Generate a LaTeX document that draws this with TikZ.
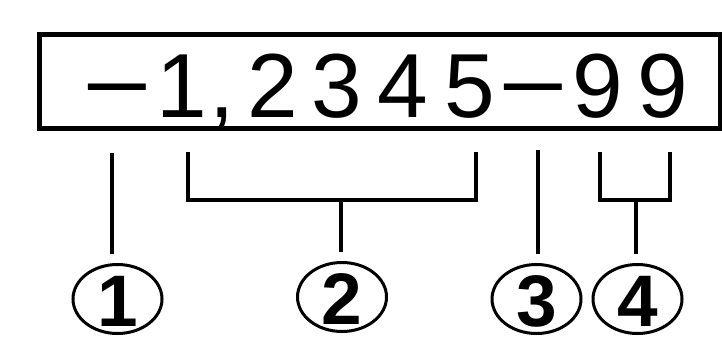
\documentclass[tikz,border=0pt]{standalone}
\usepackage{fontspec}
\setmainfont{Liberation Sans}
\usepackage{graphicx}
\usetikzlibrary{shapes.geometric}
% a minus sign drawn a little wider than the font's own
\newcommand\wideminus{\scalebox{1.31}[1]{−}}
% circled callout digit, lowered a little inside its oval
\newcommand\calloutdigit[1]{\raisebox{-27pt}[0pt][0pt]{#1}}
\begin{document}
\begin{tikzpicture}[x=1pt,y=-1pt,
  frame/.style={draw, line width=4.5pt, inner sep=0pt},
  lead/.style={line width=3.5pt},
  callout/.style={draw, ellipse, line width=3pt, minimum width=89pt,
    minimum height=69pt, inner sep=0pt,
    font=\fontsize{73}{78}\selectfont\bfseries}]
\useasboundingbox (0,0) rectangle (722,337);

% display window with the reading
\node[frame, minimum width=681pt, minimum height=94.2pt] (display) at (380,81.6) {};
\node[anchor=base west, inner sep=0pt, font=\fontsize{91}{100}\selectfont] (value) at (82.2,117)
  {\wideminus\kern4.3pt 1\kern2.8pt,\kern12.5pt 2\kern13.2pt 3\kern15.5pt 4\kern16.3pt 5\kern3.5pt\wideminus\kern4.4pt 9\kern14.4pt 9};

% numbered callouts
\node[callout] (c1) at (117.5,299) {\calloutdigit{1}};
\node[callout] (c2) at (342,297) {\calloutdigit{2}};
\node[callout] (c3) at (536.5,299) {\calloutdigit{3}};
\node[callout] (c4) at (637.5,299) {\calloutdigit{4}};

% leader ends under the display
\coordinate (s1) at (112,153);
\coordinate (b2l) at (188,152);
\coordinate (b2r) at (476,152);
\coordinate (b2m) at (341,200);
\coordinate (s3) at (538,150);
\coordinate (b4l) at (600,152);
\coordinate (b4r) at (670,152);
\coordinate (b4m) at (636,200);

% 1: sign
\draw[lead, shorten >=9pt] (s1) -- (s1 |- c1.north);
% 2: mantissa bracket
\draw[lead] (b2l) -- (b2l |- b2m) -- (b2r |- b2m) -- (b2r);
\draw[lead, shorten >=9pt] (b2m) -- (b2m |- c2.north);
% 3: exponent sign
\draw[lead, shorten >=9pt] (s3) -- (s3 |- c3.north);
% 4: exponent bracket
\draw[lead] (b4l) -- (b4l |- b4m) -- (b4r |- b4m) -- (b4r);
\draw[lead, shorten >=9pt] (b4m) -- (b4m |- c4.north);
\end{tikzpicture}
\end{document}
